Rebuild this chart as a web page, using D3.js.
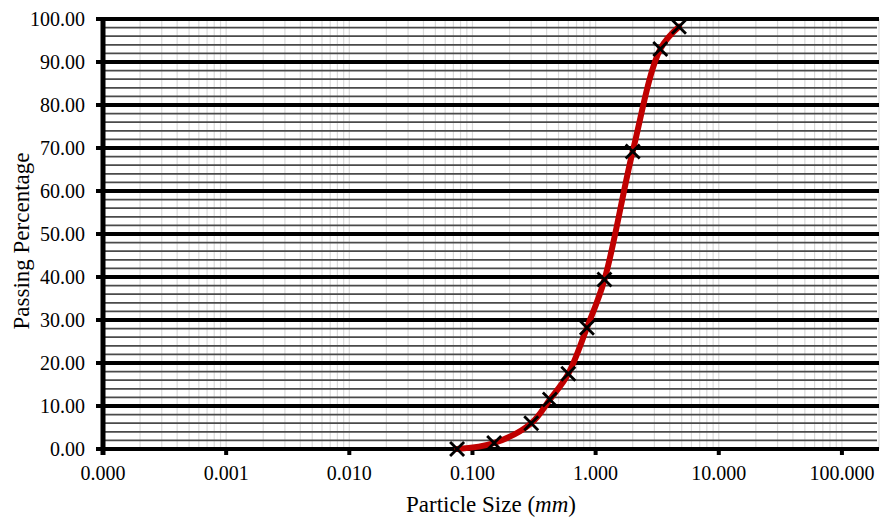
<!DOCTYPE html>
<html><head><meta charset="utf-8">
<script src="https://cdn.jsdelivr.net/npm/d3@7"></script>
<style>body{margin:0;background:#fff}svg{display:block}</style>
</head><body><svg id="c" width="882" height="517"></svg>
<script>
// Data
const sizes = [0.075, 0.15, 0.3, 0.425, 0.6, 0.85, 1.18, 2.0, 3.35, 4.75];
const passing = [0.0, 1.4, 6.0, 11.5, 17.5, 28.2, 39.4, 69.2, 93.0, 98.2];
const xTicks = [0.0001, 0.001, 0.01, 0.1, 1, 10, 100];
const yTicks = [0, 10, 20, 30, 40, 50, 60, 70, 80, 90, 100];
const yLabel = "Passing Percentage";
const xLabel = "Particle Size ";
const xUnit = "mm";

const FONT = '"Liberation Serif", "Times New Roman", serif';
const W = 882, H = 517;
const m = {l: 103, r: 3, t: 19, b: 68};
const svg = d3.select("#c");
const x = d3.scaleLog().domain([0.0001, 200]).range([m.l, W - m.r]);
const y = d3.scaleLinear().domain([0, 100]).range([H - m.b, m.t]);
const [x0, x1] = x.range();
const [yb, yt] = y.range();

// vertical minor grid
const vgrid = [];
for (let d = -4; d <= 2; d++) for (let k = 1; k <= 9; k++) {
  const v = k * Math.pow(10, d);
  if (v > 0.0001 && v <= 200) vgrid.push(v);
}
svg.append("g").selectAll("line").data(vgrid).join("line")
  .attr("x1", d => x(d)).attr("x2", d => x(d)).attr("y1", yt).attr("y2", yb)
  .attr("stroke", "#dadada").attr("stroke-width", 1.2);

// horizontal minor grid
const hminor = d3.range(2, 100, 2).filter(v => v % 10 !== 0);
svg.append("g").selectAll("line").data(hminor).join("line")
  .attr("x1", x0).attr("x2", x1 - 2).attr("y1", d => y(d)).attr("y2", d => y(d))
  .attr("stroke", "#4a4a4a").attr("stroke-width", 1.8);

// horizontal major grid with left ticks
svg.append("g").selectAll("line").data(yTicks).join("line")
  .attr("x1", x0 - 7).attr("x2", x1).attr("y1", d => y(d)).attr("y2", d => y(d))
  .attr("stroke", "#000").attr("stroke-width", 4);

// y axis line
svg.append("line").attr("x1", x0).attr("x2", x0).attr("y1", yt - 2).attr("y2", yb + 2)
  .attr("stroke", "#000").attr("stroke-width", 5);

// x ticks
svg.append("g").selectAll("rect").data(xTicks.slice(1)).join("rect")
  .attr("x", d => x(d) - 2).attr("y", yb).attr("width", 4).attr("height", 6).attr("fill", "#000");
svg.append("rect").attr("x", x0 - 2.5).attr("y", yb).attr("width", 5).attr("height", 6).attr("fill", "#000");

// tick labels
svg.append("g").selectAll("text").data(yTicks).join("text")
  .attr("x", 85).attr("y", d => y(d)).attr("dy", "0.35em").attr("text-anchor", "end")
  .style("font-family", FONT).style("font-size", "20px").attr("fill", "#000").text(d3.format(".2f"));
svg.append("g").selectAll("text").data(xTicks).join("text")
  .attr("x", d => x(d)).attr("y", yb + 31).attr("text-anchor", "middle")
  .style("font-family", FONT).style("font-size", "20px").attr("fill", "#000").text(d3.format(".3f"));

// axis titles
const xt = svg.append("text").attr("x", (x0 + x1) / 2).attr("y", 512).attr("text-anchor", "middle")
  .style("font-family", FONT).style("font-size", "23px").attr("fill", "#000");
xt.append("tspan").text(xLabel + "(");
xt.append("tspan").style("font-style", "italic").text(xUnit);
xt.append("tspan").text(")");
svg.append("text").attr("transform", `translate(29,241) rotate(-90)`)
  .attr("text-anchor", "middle").style("font-family", FONT).style("font-size", "23px")
  .attr("fill", "#000").text(yLabel);

// curve
const pts = sizes.map((s, i) => [s, passing[i]]);
const line = d3.line().x(d => x(d[0])).y(d => y(d[1])).curve(d3.curveCatmullRom.alpha(0.5));
svg.append("path").attr("d", line(pts)).attr("fill", "none").attr("stroke", "#c00000")
  .attr("stroke-width", 6).attr("stroke-linejoin", "round").attr("stroke-linecap", "round");

// markers
const s = 7;
svg.append("g").selectAll("path").data(pts).join("path")
  .attr("d", d => { const cx = x(d[0]), cy = y(d[1]);
    return `M${cx - s},${cy - s}L${cx + s},${cy + s}M${cx - s},${cy + s}L${cx + s},${cy - s}`; })
  .attr("stroke", "#000").attr("stroke-width", 2.8).attr("fill", "none");
</script></body></html>
